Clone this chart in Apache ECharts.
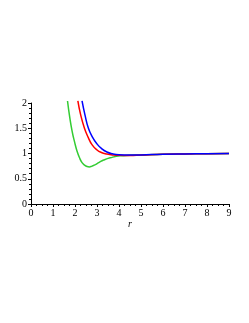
<!DOCTYPE html>
<html><head><meta charset="utf-8">
<script src="https://cdn.jsdelivr.net/npm/echarts@6/dist/echarts.min.js"></script>
<style>html,body{margin:0;padding:0;background:#fff}#c{width:249px;height:323px}</style>
</head><body><div id="c"></div>
<script>
const greenX = [1.66,1.76,1.87,1.98,2.09,2.2,2.32,2.45,2.55,2.65,2.75,2.9,3.1,3.3,3.6,4.05,4.5,5,6,7,8,9];
const greenY = [2.04,1.72,1.44,1.23,1.05,0.92,0.82,0.765,0.742,0.735,0.745,0.775,0.825,0.87,0.915,0.955,0.965,0.972,0.985,0.992,0.996,1.0];
const redX = [2.13,2.25,2.43,2.6,2.78,3.0,3.2,3.45,3.7,4.0,4.5,5,6,7,8,9];
const redY = [2.04,1.78,1.5,1.32,1.17,1.07,1.02,0.99,0.972,0.963,0.962,0.97,0.985,0.992,0.996,1.0];
const blueX = [2.32,2.45,2.61,2.8,3.0,3.2,3.45,3.7,4.0,4.5,5,6,7,8,9];
const blueY = [2.04,1.77,1.5,1.32,1.19,1.1,1.03,0.995,0.975,0.968,0.972,0.985,0.992,0.996,1.0];
const xTicks = [0,1,2,3,4,5,6,7,8,9];
const yTicks = [0,0.5,1,1.5,2];
const zip = (a,b)=>a.map((v,i)=>[v,b[i]]);
const font = '"Liberation Serif", "DejaVu Serif", serif';
const chart = echarts.init(document.getElementById('c'));
chart.setOption({
  animation:false,
  grid:{left:31,right:20,top:103,bottom:119},
  xAxis:{type:'value',min:0,max:9,interval:1,
    name:'r',nameLocation:'middle',nameGap:13,
    nameTextStyle:{fontFamily:font,fontStyle:'italic',fontSize:10,color:'#000'},
    axisLine:{lineStyle:{color:'#000',width:1}},
    axisTick:{inside:false,length:3,lineStyle:{color:'#000'}},
    minorTick:{show:true,splitNumber:4,length:2,lineStyle:{color:'#000'}},
    axisLabel:{fontFamily:font,fontSize:10,color:'#000',margin:4,
      formatter:v=>xTicks.includes(v)?String(v):''},
    splitLine:{show:false}},
  yAxis:{type:'value',min:0,max:2,interval:0.5,
    axisLine:{show:true,lineStyle:{color:'#000',width:1}},
    axisTick:{show:true,length:3,lineStyle:{color:'#000'}},
    minorTick:{show:true,splitNumber:5,length:2,lineStyle:{color:'#000'}},
    axisLabel:{fontFamily:font,fontSize:10,color:'#000',margin:4,
      formatter:v=>yTicks.includes(v)?String(v):''},
    splitLine:{show:false}},
  series:[
    {type:'line',data:zip(greenX,greenY),smooth:0.5,showSymbol:false,clip:false,lineStyle:{color:'#33cc33',width:1.5}},
    {type:'line',data:zip(redX,redY),smooth:0.5,showSymbol:false,clip:false,lineStyle:{color:'#ff0000',width:1.5}},
    {type:'line',data:zip(blueX,blueY),smooth:0.5,showSymbol:false,clip:false,lineStyle:{color:'#0000ff',width:1.5}}
  ]
});
</script></body></html>
